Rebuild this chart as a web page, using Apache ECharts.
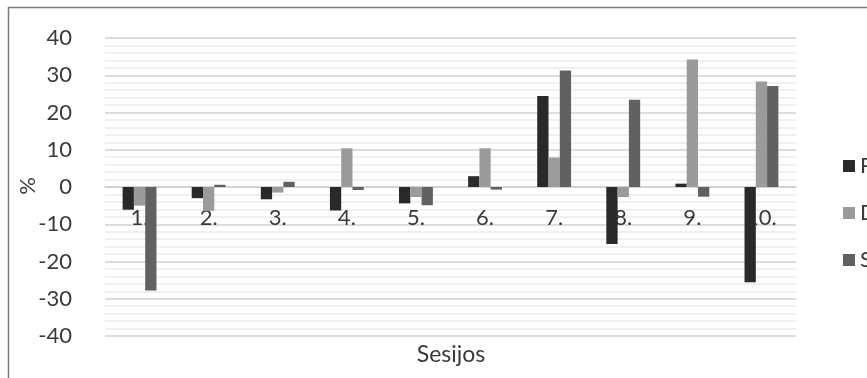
<!DOCTYPE html>
<html>
<head>
<meta charset="utf-8">
<script src="https://cdn.jsdelivr.net/npm/echarts@6/dist/echarts.min.js"></script>
<style>
  html, body { margin: 0; padding: 0; background: #ffffff; }
  #chart { width: 867px; height: 378px; }
</style>
</head>
<body>
<div id="chart"></div>
<script>
// Session labels along the category axis
const categories = ['1.', '2.', '3.', '4.', '5.', '6.', '7.', '8.', '9.', '10.'];

// Percentage change per session for each series
const seriesP = [-6.1, -3.0, -3.3, -6.3, -4.4, 2.9, 24.4, -15.3, 0.9, -25.6];
const seriesD = [-5.0, -6.4, -1.5, 10.4, -2.7, 10.4, 7.9, -2.7, 34.2, 28.3];
const seriesS = [-27.8, 0.6, 1.4, -0.8, -4.9, -0.7, 31.3, 23.4, -2.6, 27.1];

const seriesNames = ['P', 'D', 'S'];
const colors = ['#292929', '#9b9b9b', '#616161'];

const textColor = '#3a3a3a';
const fontFamily = 'Lato, "Open Sans", sans-serif';

const gridTop = 38;
const gridBottom = 42;
const chartHeight = 378;
// the value range is symmetric, so the zero line sits halfway down the plot
const plotHeight = chartHeight - gridTop - gridBottom;

const chart = echarts.init(document.getElementById('chart'));

const data = [seriesP, seriesD, seriesS];

chart.setOption({
  animation: false,
  backgroundColor: '#ffffff',
  textStyle: { fontFamily: fontFamily },
  grid: { left: 105, right: 71, top: gridTop, bottom: gridBottom, containLabel: false },
  legend: {
    orient: 'vertical',
    left: 838,
    top: 150,
    itemWidth: 12,
    itemHeight: 12,
    itemGap: 25,
    icon: 'rect',
    textStyle: { color: textColor, fontSize: 22, fontFamily: fontFamily, lineHeight: 20 },
    data: seriesNames
  },
  xAxis: {
    type: 'category',
    data: categories,
    position: 'bottom',
    offset: -plotHeight / 2,
    axisLine: { onZero: false, lineStyle: { color: '#cfcfcf', width: 1.5 } },
    axisTick: { show: false },
    axisLabel: { color: textColor, fontSize: 22, margin: 20, fontFamily: fontFamily },
    splitLine: { show: false }
  },
  yAxis: {
    type: 'value',
    min: -40,
    max: 40,
    interval: 10,
    axisLine: { show: false },
    axisTick: { show: false },
    axisLabel: { color: textColor, fontSize: 22, margin: 33, fontFamily: fontFamily },
    splitLine: { show: true, lineStyle: { color: '#d2d2d2', width: 1.5 } },
    minorTick: { show: false, splitNumber: 5 },
    minorSplitLine: { show: true, lineStyle: { color: '#ececec', width: 1.5 } }
  },
  series: seriesNames.map((name, i) => ({
    name: name,
    type: 'bar',
    data: data[i],
    barGap: '0%',
    barCategoryGap: '51%',
    itemStyle: { color: colors[i] }
  })),
  graphic: [
    {
      type: 'rect',
      silent: true,
      shape: { x: 8.5, y: 7.5, width: 1000, height: 1000 },
      style: { fill: 'none', stroke: '#7a7a7a', lineWidth: 1.5 }
    },
    {
      // value axis title, rotated to read bottom-up
      type: 'text',
      silent: true,
      x: 28,
      y: 186,
      rotation: Math.PI / 2,
      style: {
        text: '%',
        fill: textColor,
        fontSize: 22,
        fontFamily: fontFamily,
        align: 'center',
        verticalAlign: 'middle'
      }
    },
    {
      type: 'text',
      silent: true,
      x: 451,
      y: 355,
      style: {
        text: 'Sesijos',
        fill: textColor,
        fontSize: 23,
        fontFamily: fontFamily,
        align: 'center',
        verticalAlign: 'middle'
      }
    }
  ]
});
</script>
</body>
</html>
